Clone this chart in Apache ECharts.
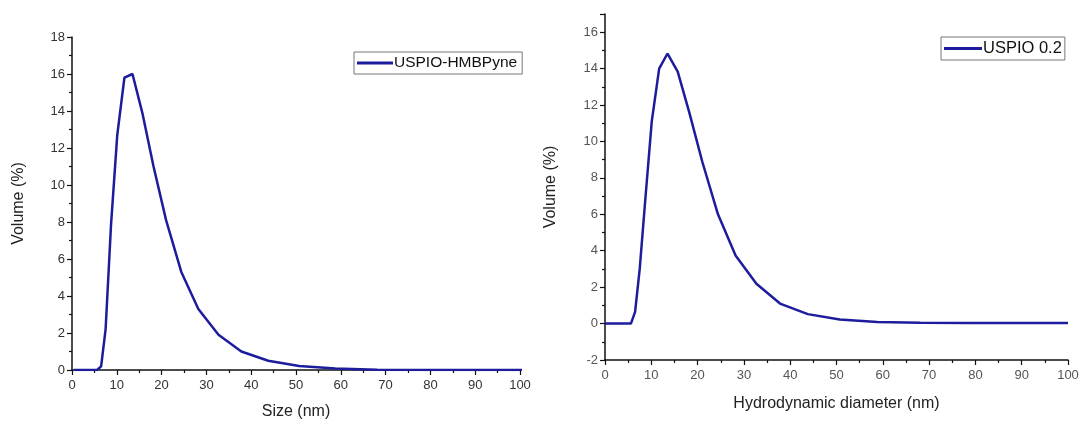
<!DOCTYPE html>
<html><head><meta charset="utf-8">
<script src="https://cdn.jsdelivr.net/npm/echarts@6/dist/echarts.min.js"></script>
<style>html,body{margin:0;padding:0;background:#fff}#c{width:1084px;height:421px}</style>
</head><body><div id="c"></div>
<script>
// Size bins (nm)
const sizesA = [0.4, 4.85, 5.6, 6.5, 7.5, 8.7, 10.1, 11.7, 13.5, 15.7, 18.2, 21.0, 24.4, 28.2, 32.7, 37.8, 43.8, 50.7, 58.8, 68.1, 78.8, 91.3, 105.7];
const volumeA = [0, 0, 0, 0.2, 2.2, 7.8, 12.7, 15.8, 16.0, 13.9, 11.0, 8.1, 5.3, 3.3, 1.9, 1.0, 0.5, 0.22, 0.08, 0.02, 0.0, 0.0, 0.0];
const sizesB = [0, 4.85, 5.6, 6.5, 7.5, 8.7, 10.1, 11.7, 13.5, 15.7, 18.2, 21.0, 24.4, 28.2, 32.7, 37.8, 43.8, 50.7, 58.8, 68.1, 78.8, 91.3, 100];
const volumeB = [0, 0, 0, 0.64, 3.0, 6.8, 11.1, 14.0, 14.83, 13.84, 11.6, 8.9, 6.0, 3.74, 2.19, 1.1, 0.52, 0.22, 0.09, 0.04, 0.03, 0.03, 0.03];
const xTicks = {min: 0, max: 100, interval: 10};
const yTicksA = {min: 0, max: 18, interval: 2};
const yTicksB = {min: -2, max: 17, interval: 2};
const nameA = 'USPIO-HMBPyne';
const nameB = 'USPIO 0.2';

const lineColor = '#1c1c9c';
const font = 'Liberation Sans, Arial, sans-serif';
function xAx(gi, name, gap, labColor) {
  return {type: 'value', gridIndex: gi, min: xTicks.min, max: xTicks.max, interval: xTicks.interval,
    name: name, nameLocation: 'middle', nameGap: gap,
    nameTextStyle: {fontFamily: font, fontSize: 16, color: '#222'},
    axisLine: {show: true, onZero: false, lineStyle: {color: '#111', width: 1.5}},
    axisTick: {show: true, length: 5, lineStyle: {color: '#111', width: 1.2}},
    minorTick: {show: true, splitNumber: 2, length: 3, lineStyle: {color: '#111', width: 1.2}},
    axisLabel: {fontFamily: font, fontSize: 13, color: labColor, margin: 9},
    splitLine: {show: false}};
}
function yAx(gi, t, gap, labColor) {
  return {type: 'value', gridIndex: gi, min: t.min, max: t.max, interval: t.interval,
    name: 'Volume (%)', nameLocation: 'middle', nameGap: gap,
    nameTextStyle: {fontFamily: font, fontSize: 16, color: '#222'},
    axisLine: {show: true, onZero: false, lineStyle: {color: '#111', width: 1.5}},
    axisTick: {show: true, length: 5, lineStyle: {color: '#111', width: 1.2}},
    minorTick: {show: true, splitNumber: 2, length: 3, lineStyle: {color: '#111', width: 1.2}},
    axisLabel: {fontFamily: font, fontSize: 13, color: labColor, margin: 7, showMaxLabel: t.max % t.interval === 0},
    splitLine: {show: false}};
}
const chart = echarts.init(document.getElementById('c'), null, {renderer: 'canvas'});
chart.setOption({
  backgroundColor: '#fff',
  animation: false,
  grid: [
    {left: 72, right: 564, top: 37, bottom: 51, outerBoundsMode: 'none', containLabel: false},
    {left: 605, right: 16, top: 14, bottom: 61, outerBoundsMode: 'none', containLabel: false}
  ],
  xAxis: [xAx(0, 'Size (nm)', 34, '#333'), xAx(1, 'Hydrodynamic diameter (nm)', 36, '#555')],
  yAxis: [yAx(0, yTicksA, 45, '#333'), yAx(1, yTicksB, 46, '#555')],
  legend: [
    {data: [nameA], left: 354, top: 52, orient: 'vertical', icon: 'rect', itemWidth: 36, itemHeight: 3, itemGap: 0,
     padding: [3, 5, 3, 3], borderColor: '#777', borderWidth: 1, textStyle: {fontFamily: font, fontSize: 15.5, color: '#111', padding: [0,0,0,-4]}},
    {data: [nameB], left: 941, top: 37, orient: 'vertical', icon: 'rect', itemWidth: 38, itemHeight: 3, itemGap: 0,
     padding: [3, 3, 3, 3], borderColor: '#777', borderWidth: 1, textStyle: {fontFamily: font, fontSize: 16.5, color: '#111', padding: [0,0,0,-4]}}
  ],
  series: [
    {name: nameA, type: 'line', xAxisIndex: 0, yAxisIndex: 0, data: sizesA.map((x, i) => [x, volumeA[i]]),
     showSymbol: false, symbol: 'none', clip: true, lineStyle: {color: lineColor, width: 2.5}, itemStyle: {color: lineColor}},
    {name: nameB, type: 'line', xAxisIndex: 1, yAxisIndex: 1, data: sizesB.map((x, i) => [x, volumeB[i]]),
     showSymbol: false, symbol: 'none', clip: true, lineStyle: {color: lineColor, width: 2.5}, itemStyle: {color: lineColor}}
  ]
});
</script></body></html>
